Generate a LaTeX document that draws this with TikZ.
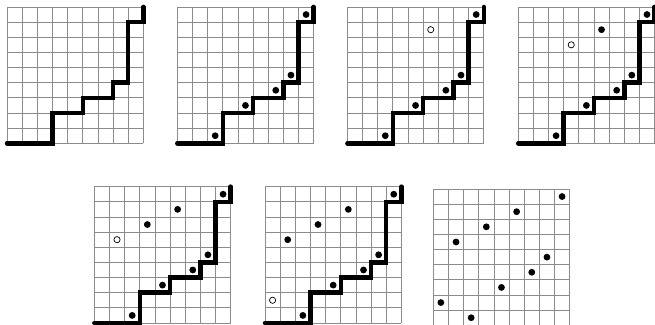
\documentclass[tikz,border=0pt]{standalone}
\tikzset{
  gridline/.style={draw=black!45, line width=0.8pt},
  stairpath/.style={draw=black, line width=4.5pt, line cap=round, line join=miter},
  fulldot/.style={fill=black},
  opendot/.style={draw=black, fill=white, line width=0.7pt},
}
\newcommand{\mygridpanel}{%
  \draw[gridline, xstep=1, ystep=1] (0,0) grid (9,9);
}
\newcommand{\mystairs}{%
  \draw[stairpath] (0,0) -- (3,0) -- (3,2) -- (5,2) -- (5,3) -- (7,3) -- (7,4) -- (8,4) -- (8,8) -- (9,8) -- (9,9);
}
\newcommand{\myfull}[2]{\fill[fulldot] (#1+0.5,#2+0.5) circle (3.4pt);}
\newcommand{\myopen}[2]{\draw[opendot] (#1+0.5,#2+0.5) circle (3.1pt);}
\newcommand{\mybase}{\myfull{2}{0}\myfull{4}{2}\myfull{6}{3}\myfull{7}{4}\myfull{8}{8}}
\begin{document}
\begin{tikzpicture}[x=1pt,y=1pt]
\useasboundingbox (0,0) rectangle (655,324);
\begin{scope}[shift={(7,180.7)}, x=15.15pt, y=15.15pt]
  \mygridpanel \mystairs
\end{scope}
\begin{scope}[shift={(177.3,180.7)}, x=15.15pt, y=15.15pt]
  \mygridpanel \mystairs \mybase
\end{scope}
\begin{scope}[shift={(347.4,180.7)}, x=15.15pt, y=15.15pt]
  \mygridpanel \mystairs \mybase \myopen{5}{7}
\end{scope}
\begin{scope}[shift={(518.2,180.7)}, x=15.15pt, y=15.15pt]
  \mygridpanel \mystairs \mybase \myfull{5}{7} \myopen{3}{6}
\end{scope}
\begin{scope}[shift={(94.3,1)}, x=15.15pt, y=15.15pt]
  \mygridpanel \mystairs \mybase \myfull{5}{7} \myfull{3}{6} \myopen{1}{5}
\end{scope}
\begin{scope}[shift={(265,1)}, x=15.15pt, y=15.15pt]
  \mygridpanel \mystairs \mybase \myfull{5}{7} \myfull{3}{6} \myfull{1}{5} \myopen{0}{1}
\end{scope}
\begin{scope}[shift={(433.3,-1.3)}, x=15.15pt, y=15.15pt]
  \mygridpanel \mybase \myfull{5}{7} \myfull{3}{6} \myfull{1}{5} \myfull{0}{1}
\end{scope}
\end{tikzpicture}
\end{document}
